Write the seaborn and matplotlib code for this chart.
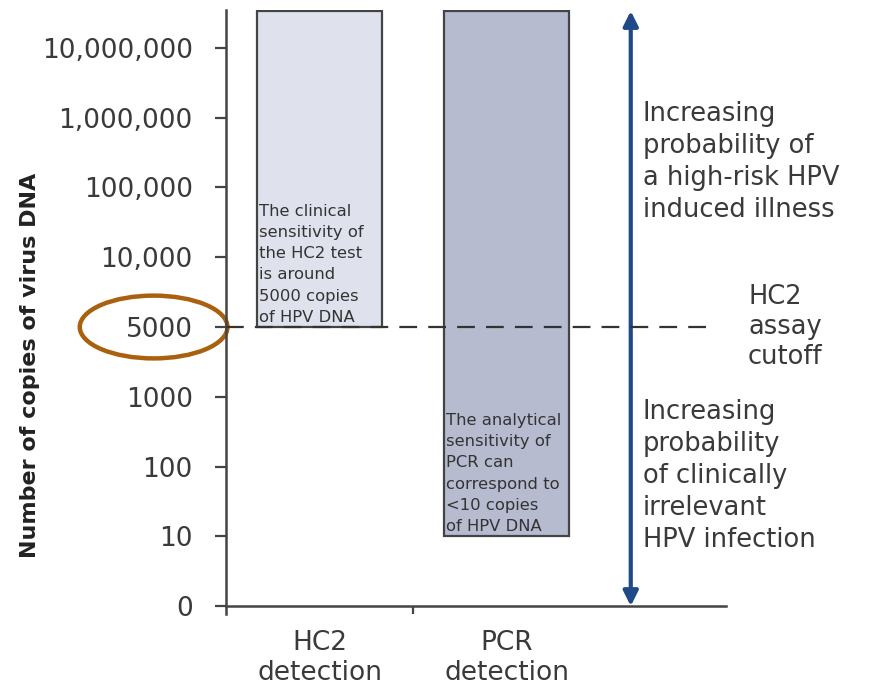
import numpy as np
import pandas as pd
import seaborn as sns
import matplotlib.pyplot as plt
from matplotlib.patches import Ellipse

# y scale is ordinal: one step per level
levels = ["0", "10", "100", "1000", "5000", "10,000", "100,000", "1,000,000", "10,000,000"]
methods = ["HC2\ndetection", "PCR\ndetection"]
lowest_copies = ["5000", "10"]      # detection limit of each method
top_level = 8.53                    # bars run past 10,000,000
cutoff = "5000"
bar_colors = ["#dde1ee", "#b2b8d4"]
notes = [
    "The clinical\nsensitivity of\nthe HC2 test\nis around\n5000 copies\nof HPV DNA",
    "The analytical\nsensitivity of\nPCR can\ncorrespond to\n<10 copies\nof HPV DNA",
]
upper_note = "Increasing\nprobability of\na high-risk HPV\ninduced illness"
lower_note = "Increasing\nprobability\nof clinically\nirrelevant\nHPV infection"
cutoff_note = "HC2\nassay\ncutoff"

bottoms = [levels.index(v) for v in lowest_copies]
df = pd.DataFrame({"method": methods, "span": [top_level - b for b in bottoms]})
cut_y = levels.index(cutoff)

sns.set_style("ticks")
plt.rcParams["font.family"] = ["DejaVu Sans"]
grey = "#3a3a3a"

fig = plt.figure(figsize=(8.7, 6.85), dpi=100)
ax = fig.add_axes([0.26, 0.103, 0.574, 0.882])

sns.barplot(data=df, x="method", y="span", hue="method", palette=bar_colors,
            legend=False, width=0.67, edgecolor="#444444", linewidth=1.6, ax=ax)
for patch, b in zip(ax.patches, bottoms):
    patch.set_y(b)

# text inside the bars
for i, (txt, b) in enumerate(zip(notes, bottoms)):
    ax.text(i - 0.327, b + 0.03, txt, ha="left", va="bottom", fontsize=11.8,
            color="#333333", linespacing=1.52)

# cutoff line
ax.plot([-0.5, 2.09], [cut_y, cut_y], color="#333333", lw=1.6,
        dashes=(8, 5), zorder=5, clip_on=False)

# probability arrow
ax.annotate("", xy=(1.663, top_level), xytext=(1.663, 0),
            arrowprops=dict(arrowstyle="<|-|>", color="#1f4a87", lw=3,
                            mutation_scale=22, shrinkA=0, shrinkB=0))
ax.text(1.727, 6.37, upper_note, ha="left", va="center", fontsize=18.5,
        color=grey, linespacing=1.3)
ax.text(1.727, 1.86, lower_note, ha="left", va="center", fontsize=18.5,
        color=grey, linespacing=1.3)
ax.text(2.29, cut_y, cutoff_note, ha="left", va="center", fontsize=18.5,
        color=grey, linespacing=1.2, clip_on=False)

# axes
ax.set_xlim(-0.5, 2.17)
ax.set_ylim(-0.12, 8.54)
ax.set_yticks(range(len(levels)))
ax.set_yticklabels(levels)
ax.set_xticks([0, 1])
ax.set_xticklabels(methods, linespacing=1.0)
ax.set_xticks([0.5], minor=True)
ax.tick_params(axis="y", length=8, width=1.6, pad=16, labelsize=19,
               labelcolor=grey, color="#444444")
ax.tick_params(axis="x", which="major", length=0, pad=17, labelsize=19,
               labelcolor=grey)
ax.tick_params(axis="x", which="minor", length=6, width=1.6, color="#444444")
ax.spines["bottom"].set_position(("data", 0))
ax.spines["right"].set_visible(False)
ax.spines["top"].set_visible(False)
for s in ["left", "bottom"]:
    ax.spines[s].set_color("#444444")
    ax.spines[s].set_linewidth(1.8)
ax.set_xlabel("")
ax.set_ylabel("Number of copies of virus DNA", fontsize=16, fontweight="bold",
              color="#222222")
ax.yaxis.set_label_coords(-0.373, 0.413)

# highlight of the cutoff tick label
ax.add_patch(Ellipse((-0.888, cut_y), 0.79, 0.9, fill=False, edgecolor="#a9610f",
                     lw=3.2, transform=ax.transData, clip_on=False))

fig.savefig("out.png", dpi=100)
